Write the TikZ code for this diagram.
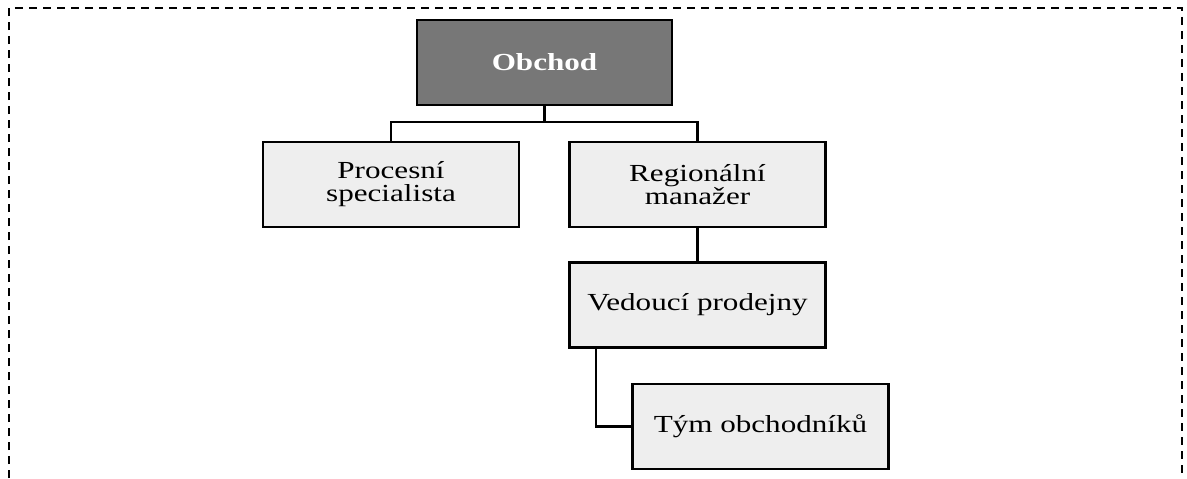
\documentclass[tikz,border=0pt]{standalone}
\usepackage{fontspec}
\setmainfont{Liberation Serif}[FakeStretch=1.27]
\begin{document}
\begin{tikzpicture}[x=1pt,y=-1pt,
  box/.style={draw=black,line width=2.4pt,fill=boxgray,minimum width=256pt,minimum height=85pt,inner sep=0pt,align=center,
    font=\fontsize{24.5}{23}\selectfont},
  topbox/.style={box,fill=darkgray2,text=white,minimum width=255pt,font=\fontsize{24.5}{23}\selectfont\bfseries},
  conn/.style={line width=2.4pt,black}]
\definecolor{boxgray}{HTML}{EEEEEE}
\definecolor{darkgray2}{HTML}{777777}
\useasboundingbox (0,0) rectangle (1187,479);
\begin{scope}
\clip (0,0) rectangle (1187,479);
\draw[line width=1.4pt,dash pattern=on 8pt off 6pt] (9,520) -- (9,8) -- (1182,8) -- (1182,520);
\end{scope}
\node[topbox] (obchod) at (544.5,62.5) {Obchod};
\node[box] (proc) at (391,184.5) {Procesní\\specialista};
\node[box] (reg) at (697.5,184.5) {Regionální\\manažer};
\node[box] (ved) at (697.5,305) {Vedoucí prodejny};
\node[box] (tym) at (760.5,426.5) {Tým obchodníků};
\coordinate (j) at (544.5,122);
\draw[conn] (obchod.south) -- (j);
\draw[conn] (proc.north) |- (j) -| (reg.north);
\draw[conn] (reg.south) -- (ved.north);
\draw[conn] ([xshift=-101.5pt]ved.south) |- (tym.west);
\end{tikzpicture}
\end{document}
